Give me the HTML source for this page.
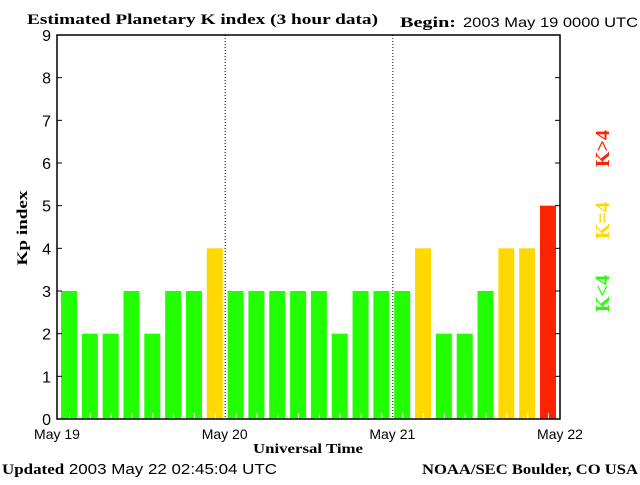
<!DOCTYPE html>
<html><head><meta charset="utf-8"><style>
body{margin:0;background:#fff;}
svg text{font-family:"Liberation Sans",sans-serif;}
.ser{font-family:"Liberation Serif",serif;font-weight:bold;}
</style></head><body>
<svg id="chart" width="640" height="480" xmlns="http://www.w3.org/2000/svg">
<text x="27" y="24" class="ser" font-size="15" textLength="351" lengthAdjust="spacingAndGlyphs">Estimated Planetary K index (3 hour data)</text>
<text x="400" y="27" class="ser" font-size="15" textLength="56" lengthAdjust="spacingAndGlyphs">Begin:</text>
<text x="463" y="27" font-size="14" textLength="175" lengthAdjust="spacingAndGlyphs">2003 May 19 0000 UTC</text>
<g id="bars"></g>
<g id="axes"></g>
<text x="27" y="228" class="ser" font-size="15" textLength="75" lengthAdjust="spacingAndGlyphs" transform="rotate(-90 27 228)" text-anchor="middle">Kp index</text>
<text x="253" y="453" class="ser" font-size="14" textLength="110" lengthAdjust="spacingAndGlyphs">Universal Time</text>
<text x="2" y="474" font-size="15" textLength="275" lengthAdjust="spacingAndGlyphs"><tspan class="ser">Updated</tspan> 2003 May 22 02:45:04 UTC</text>
<text x="422" y="474" class="ser" font-size="15" textLength="216" lengthAdjust="spacingAndGlyphs">NOAA/SEC Boulder, CO USA</text>
<text x="0" y="0" class="ser" font-size="20" fill="#ff2200" transform="translate(609,167) rotate(-90)">K&gt;4</text>
<text x="0" y="0" class="ser" font-size="20" fill="#ffd800" transform="translate(609,239) rotate(-90)">K=4</text>
<text x="0" y="0" class="ser" font-size="20" fill="#22ff00" transform="translate(609,312) rotate(-90)">K&lt;4</text>
</svg>
<script>
const kpValues=[3,2,2,3,2,3,3,4, 3,3,3,3,3,2,3,3, 3,4,2,2,3,4,4,5];
const yTicks=[0,1,2,3,4,5,6,7,8,9];
const dayLabels=["May 19","May 20","May 21","May 22"];
const NS="http://www.w3.org/2000/svg";
const L=57,R=560,T=35,B=419;
const xs=i=>L+(R-L)*i/24;
const xb=i=>61+(479/23)*i;
const ys=v=>B-(B-T)*v/9;
function mk(tag,attrs,parent){const e=document.createElementNS(NS,tag);for(const k in attrs)e.setAttribute(k,attrs[k]);parent.appendChild(e);return e;}
const bars=document.getElementById('bars'),axes=document.getElementById('axes');
kpValues.forEach((v,i)=>{
  const col=v>4?"#ff2200":(v==4?"#ffd800":"#22ff00");
  const r=mk('rect',{x:xb(i),y:ys(v),width:16,height:B-ys(v),fill:col},bars);
  
  
  const t=mk('line',{x1:xb(i)+8.5,x2:xb(i)+8.5,y1:B-6,y2:B,stroke:"#fff","stroke-width":1},bars);
  
  
});
[1,2].forEach(d=>{
  const l=mk('line',{x1:xs(d*8)+0.5,x2:xs(d*8)+0.5,y1:T,y2:B,stroke:"#000","stroke-dasharray":"1,2"},axes);
  
  
});
const fr=mk('rect',{x:L,y:T,width:R-L,height:B-T,fill:"none",stroke:"#000","stroke-width":1.5},axes);


yTicks.forEach(v=>{
  mk('line',{x1:L,x2:L+5,y1:ys(v),y2:ys(v),stroke:"#000"},axes);
  mk('line',{x1:R-5,x2:R,y1:ys(v),y2:ys(v),stroke:"#000"},axes);
  const t=mk('text',{x:L-6,y:ys(v)+6,"text-anchor":"end","font-size":"16"},axes);
  t.textContent=v;
  
  
});
dayLabels.forEach((s,d)=>{
  const t=mk('text',{x:xs(d*8),y:439,"text-anchor":"middle","font-size":"14"},axes);
  t.textContent=s;
  
  
});
</script>
</body></html>
